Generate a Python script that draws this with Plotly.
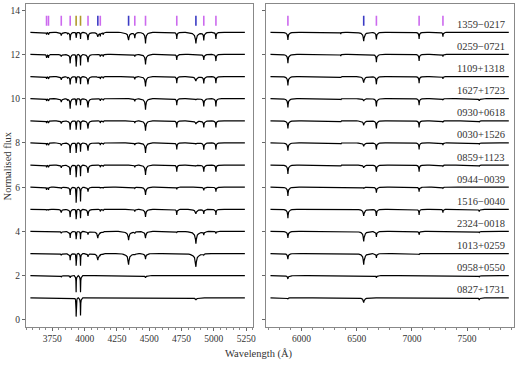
import numpy as np
import plotly.graph_objects as go

# ---------------- data ----------------
# stars from bottom (offset 1) to top (offset 13)
star_names = ["0827+1731", "0958+0550", "1013+0259", "2324\u22120018", "1516\u22120040",
              "0944\u22120039", "0859+1123", "0030+1526", "0930+0618", "1627+1723",
              "1109+1318", "0259\u22120721", "1359\u22120217"]
offsets = [1, 2, 3, 4, 5, 6, 7, 8, 9, 10, 11, 12, 13]

# absorption lines: centre (A) and characteristic width (A)
line_centres = [3705, 3720, 3819, 3867, 3888, 3934, 3968, 4026, 4102, 4121, 4144, 4340,
                4388, 4471, 4713, 4861, 4922, 5016,
                5876, 6355, 6563, 6678, 7065, 7281, 7610]
line_widths = [3, 3, 7, 4, 4, 1.8, 2.2, 6, 9, 3, 3, 10,
               5, 7, 4, 11, 5, 4,
               7, 3, 10, 6, 5, 4, 8]

# line depths per star (same order as line_centres), bottom star first
depth_0827 = [0, 0, 0, 0, 0, .85, .8, 0, 0, 0, 0, .03, 0, 0, 0, .1, 0, 0,
              .05, 0, .22, 0, 0, 0, .1]
depth_0958 = [0, 0, .05, 0, .1, .75, .75, .03, 0, 0, 0, 0, 0, .1, 0, 0, 0, .02,
              .15, 0, 0, .1, .03, 0, .05]
depth_1013 = [.03, .03, .08, .02, .3, .55, .55, .15, .3, .03, .02, .5, .05, .25, .03, .6, .05, .03,
              .25, .02, .5, .2, .05, 0, .03]
depth_2324 = [.03, .03, .08, .02, .3, .35, .35, .15, .3, .05, .02, .4, .08, .3, .05, .55, .15, .1,
              .3, .02, .45, .25, .15, .03, .05]
depth_1516 = [.05, .05, .15, .05, .35, .45, .4, .3, 0, .1, .05, 0, .1, .35, .25, .2, .2, .25,
              .4, .03, .3, .3, .25, .15, .1]
depth_0944 = [.12, .12, .05, .03, .35, .7, .65, .2, 0, .05, .05, 0, .05, .35, .1, 0, .15, .2,
              .4, .03, .05, .25, .2, .05, .03]
depth_0859 = [.1, .1, .12, .05, .45, .55, .5, .35, 0, .1, .05, 0, .1, .45, .3, .05, .3, .3,
              .4, .05, .12, .3, .3, .05, .05]
depth_0030 = [.1, .1, .12, .05, .45, .45, .4, .35, 0, .1, .05, 0, .1, .45, .3, .05, .3, .3,
              .35, .05, .15, .3, .3, .1, .05]
depth_0930 = [.1, .1, .12, .05, .4, .4, .4, .35, 0, .1, .05, 0, .1, .45, .3, .15, .3, .3,
              .35, .05, .2, .35, .3, .05, .05]
depth_1627 = [.1, .1, .15, .05, .45, .3, .3, .4, 0, .1, .05, 0, .12, .5, .3, .05, .35, .35,
              .4, .05, .1, .35, .3, .05, .1]
depth_1109 = [.1, .1, .15, .05, .35, .3, .35, .35, .05, .1, .05, .02, .12, .45, .3, .2, .3, .3,
              .4, .05, .27, .35, .3, .1, 0]
depth_0259 = [.15, .15, .1, .05, .4, .55, .5, .35, 0, .1, .1, 0, .1, .45, .25, 0, .25, .3,
              .4, .08, 0, .35, .3, .1, 0]
depth_1359 = [.1, .1, .15, .05, .35, .25, .3, .35, .2, .15, .1, .35, .25, .5, .3, .5, .35, .3,
              .35, .08, .4, .32, .3, .2, 0]
depths = [depth_0827, depth_0958, depth_1013, depth_2324, depth_1516, depth_0944,
          depth_0859, depth_0030, depth_0930, depth_1627, depth_1109, depth_0259, depth_1359]

# line identification marks at the top
he_marks = [3705, 3720, 3819, 3888, 4026, 4121, 4388, 4471, 4713, 4922, 5016,
            5876, 6678, 7065, 7281]
h_marks = [4102, 4340, 4861, 6563]
ca_marks = [3934, 3968]

left_range = (3580, 5255)
right_range = (5718, 7888)

# ---------------- build spectra ----------------
prof_rel = np.array([-8, -5, -2.5, -1, -0.3, 0, 0.3, 1, 2.5, 5, 8])
prof_frac = np.array([0, .04, .12, .3, .65, 1, .65, .3, .12, .04, 0])


def spectrum(lo, hi, dep, off):
    pts = list(np.arange(lo, hi + 1, 20.0))
    for c, w in zip(line_centres, line_widths):
        if lo <= c <= hi:
            pts += list(c + prof_rel * w)
    wl = np.array(sorted(set([p for p in pts if lo <= p <= hi])))
    fl = np.full(wl.shape, float(off))
    for c, w, d in zip(line_centres, line_widths, dep):
        if d:
            fl -= d * np.interp(wl, c + prof_rel * w, prof_frac, left=0, right=0)
    return wl, fl


fig = go.Figure()
for off, dep in zip(offsets, depths):
    for (lo, hi), xa, ya in [(left_range, "x", "y"), (right_range, "x2", "y2")]:
        wl, fl = spectrum(lo, hi, dep, off)
        fig.add_trace(go.Scatter(x=wl, y=fl, mode="lines", xaxis=xa, yaxis=ya,
                                 line=dict(color="black", width=1.2), showlegend=False,
                                 hoverinfo="skip"))

mark_lo, mark_hi = 13.3, 13.75
for marks, col in [(he_marks, "#cc6aee"), (h_marks, "#3b3bc4"), (ca_marks, "#b09a2a")]:
    for xa, ya, (lo, hi) in [("x", "y", (3500, 5300)), ("x2", "y2", (5600, 8000))]:
        xs, ys = [], []
        for m in marks:
            if lo <= m <= hi:
                xs += [m, m, None]
                ys += [mark_lo, mark_hi, None]
        if xs:
            fig.add_trace(go.Scatter(x=xs, y=ys, mode="lines", xaxis=xa, yaxis=ya,
                                     line=dict(color=col, width=1.6), showlegend=False,
                                     hoverinfo="skip"))

font = "Liberation Serif"
annotations = []
for off, name in zip(offsets, star_names):
    annotations.append(dict(x=7860, y=off + 0.36, xref="x2", yref="y2", text=name,
                            showarrow=False, xanchor="right", yanchor="middle",
                            font=dict(family=font, size=10.5, color="#333")))
annotations.append(dict(x=0.477, y=-0.083, xref="paper", yref="paper", text="Wavelength (\u00c5)",
                        showarrow=False, xanchor="center", yanchor="middle",
                        font=dict(family=font, size=10.5, color="#333")))
annotations.append(dict(x=-0.037, y=0.5, xref="paper", yref="paper", text="Normalised flux",
                        showarrow=False, textangle=-90, xanchor="center", yanchor="middle",
                        font=dict(family=font, size=10.5, color="#333")))

ax_common = dict(showline=True, mirror=True, linecolor="#888", linewidth=1, showgrid=False,
                 zeroline=False, ticks="outside", ticklen=3, tickcolor="#666",
                 tickfont=dict(family=font, size=9.5, color="#333"))
fig.update_layout(
    width=520, height=365, margin=dict(l=26, r=3, t=3, b=38),
    paper_bgcolor="white", plot_bgcolor="white",
    xaxis=dict(domain=[0, 0.4644], range=[3546, 5300], anchor="y",
               tickvals=[3750, 4000, 4250, 4500, 4750, 5000, 5250],
               minor=dict(dtick=50, tick0=3550, ticks="outside", ticklen=2, tickcolor="#888"),
               **ax_common),
    xaxis2=dict(domain=[0.4908, 1], range=[5673, 7925], anchor="y2",
                tickvals=[6000, 6500, 7000, 7500],
                minor=dict(dtick=100, tick0=5700, ticks="outside", ticklen=2, tickcolor="#888"),
                **ax_common),
    yaxis=dict(domain=[0, 1], range=[-0.32, 14.28], anchor="x",
               tickvals=[0, 2, 4, 6, 8, 10, 12, 14], **ax_common),
    yaxis2=dict(domain=[0, 1], range=[-0.32, 14.28], anchor="x2", matches="y",
                tickvals=[0, 2, 4, 6, 8, 10, 12, 14], showticklabels=False,
                **{k: v for k, v in ax_common.items() if k != "tickfont"}),
    annotations=annotations,
)
fig.write_html("out.html", config={"displayModeBar": False},
               post_script="document.body.style.margin='0';")
